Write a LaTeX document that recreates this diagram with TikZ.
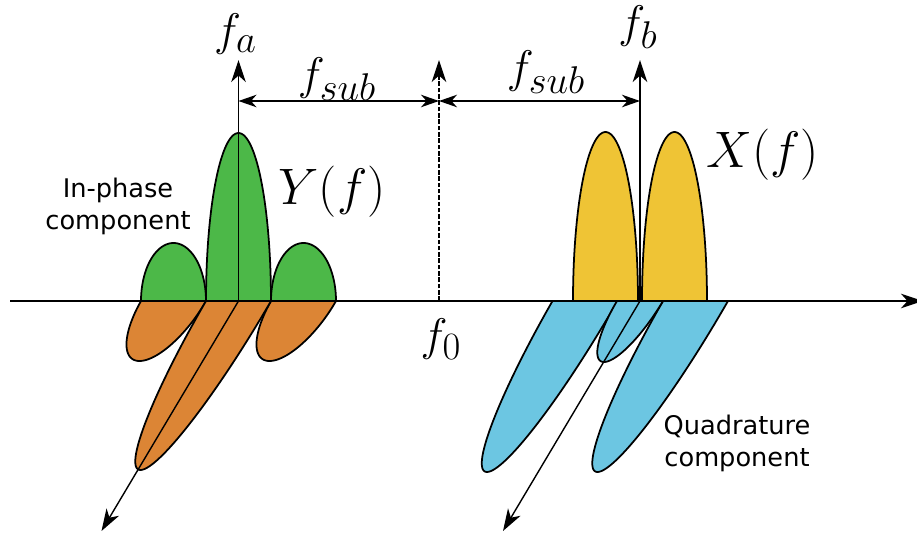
\documentclass[tikz,border=0pt]{standalone}
\usepackage{fix-cm}
\usepackage{amsmath,amssymb}
\usepackage{fontspec}
\setmainfont{DejaVu Sans}
\usetikzlibrary{arrows.meta}
\DeclareMathSizes{26}{26}{22}{16}
\definecolor{lobegreen}{HTML}{4CB848}
\definecolor{lobeorange}{HTML}{DC8535}
\definecolor{lobeyellow}{HTML}{EFC435}
\definecolor{lobeblue}{HTML}{6CC6E2}
% fill, centre x, half width, apex shift x, apex shift y
\newcommand{\lobe}[5]{\draw[lobeline, fill=#1] plot[domain=0:180, samples=70, smooth] ({#2-#3*cos(\x)+(#4)*sin(\x)},{301+(#5)*sin(\x)}) -- cycle;}
\begin{document}
\begin{tikzpicture}[
  x=0.02cm, y=-0.02cm,
  lobeline/.style={draw, line width=1pt, line join=round},
  axis/.style={line width=0.8pt, -{Stealth[length=4.4mm, width=2.9mm, inset=1.3mm]}},
  dimline/.style={line width=0.7pt, {Stealth[length=3.6mm, width=2.5mm, inset=1.1mm]}-{Stealth[length=3.6mm, width=2.5mm, inset=1.1mm]}},
  biglabel/.style={font=\fontsize{29.2}{34}\selectfont},
  freqlabel/.style={font=\fontsize{26}{30}\selectfont},
  textlabel/.style={font=\fontsize{14.6}{18.2}\selectfont, align=center}
]
\useasboundingbox (0,0) rectangle (917,534);
\clip (0,0) rectangle (917,534);

% lobes above the axis
\lobe{lobegreen}{173.5}{32.5}{0}{-58}
\lobe{lobegreen}{238.5}{32.5}{0}{-168}
\lobe{lobegreen}{303.5}{32.5}{0}{-58}
\lobe{lobeyellow}{605.5}{32.5}{0}{-169}
\lobe{lobeyellow}{674.5}{32.5}{0}{-169}

% lobes below the axis
\lobe{lobeorange}{173.5}{32.5}{-34}{60}
\lobe{lobeorange}{303.5}{32.5}{-34}{60}
\lobe{lobeorange}{238.5}{32.5}{-98}{169}
\lobe{lobeblue}{585}{32.5}{-98}{171}
\lobe{lobeblue}{695.5}{32.5}{-98}{171}
\lobe{lobeblue}{640}{23}{-36}{61}

\coordinate (start) at (10,301);
\coordinate (end) at (923,301);
\coordinate (fa) at (238.5,301);
\coordinate (fb) at (640,301);
\coordinate (f0) at (439,301);
\coordinate (fatop) at (238.5,60);
\coordinate (fbtop) at (640,60);
\coordinate (f0top) at (439,60);
\coordinate (fadown) at (101.5,531);
\coordinate (fbdown) at (503,531);
\coordinate (dima) at (238.5,101);
\coordinate (dimc) at (439,101);
\coordinate (dimb) at (640,101);

\draw[axis] (start) -- (end);
\draw[axis] (fa) -- (fatop);
\draw[axis] (fb) -- (fbtop);
\draw[axis, line width=0.6pt, dash pattern=on 2.6pt off 1pt] (f0) -- (f0top);
\draw[axis] (fa) -- (fadown);
\draw[axis] (fb) -- (fbdown);
\draw[dimline] (dima) -- (dimc);
\draw[dimline] (dimc) -- (dimb);

\node[freqlabel] (lfa) at (235.5,34) {$f_a$};
\node[freqlabel] (lfb) at (638,27) {$f_b$};
\node[freqlabel] (lf0) at (441,339) {$f_0$};
\node[freqlabel] (lsuba) at (337,79) {$f_{sub}$};
\node[freqlabel] (lsubb) at (546,72) {$f_{sub}$};
\node[biglabel] (ly) at (332,192) {$Y(f)$};
\node[biglabel] (lx) at (763,155) {$X(f)$};
\node[textlabel] (lin) at (118,206) {In-phase\\component};
\node[textlabel] (lq) at (737,443) {Quadrature\\component};
\end{tikzpicture}
\end{document}
